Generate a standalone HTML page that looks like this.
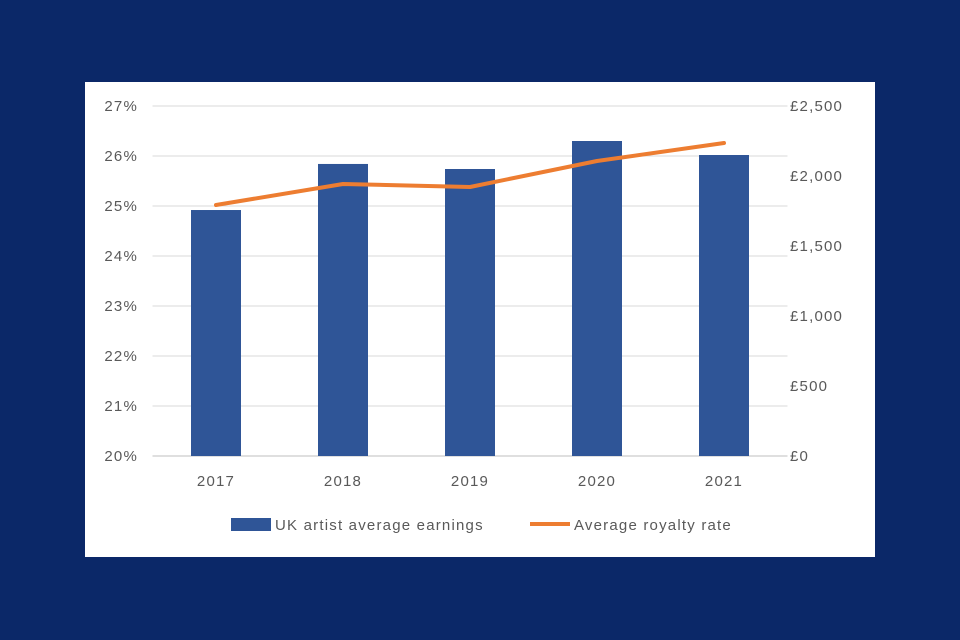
<!DOCTYPE html>
<html><head><meta charset="utf-8"><style>
body{margin:0;background:#0b2868;width:960px;height:640px;overflow:hidden}
svg{display:block}
text{font-family:"Liberation Sans",sans-serif;font-size:15px;fill:#595959;letter-spacing:1.2px}
</style></head><body>
<svg width="960" height="640">
<rect x="0" y="0" width="960" height="640" fill="#0b2868"/>
<rect x="85" y="82" width="790" height="475" fill="#fff"/>
<g id="grid"></g><g id="bars"></g><g id="line"></g><g id="axes"></g>
<g>
<rect x="231" y="518" width="40" height="13" fill="#2f5597"/>
<text x="275" y="530">UK artist average earnings</text>
<line x1="530" y1="524" x2="570" y2="524" stroke="#ed7d31" stroke-width="4"/>
<text x="574" y="530">Average royalty rate</text>
</g>
</svg>
<script>
const categories=["2017","2018","2019","2020","2021"];
const earnings=[1757,2086,2050,2250,2150];
const royalty=[25.02,25.44,25.38,25.9,26.26];
const leftTicks=[20,21,22,23,24,25,26,27];
const rightTicks=[0,500,1000,1500,2000,2500];
const NS="http://www.w3.org/2000/svg";
const x0=152.5,step=127,yTop=106,yBot=456;
const xC=i=>x0+step*(i+0.5);
const yL=v=>yBot-(v-20)/7*(yBot-yTop);
const yR=v=>yBot-v/2500*(yBot-yTop);
function mk(tag,attrs,parent){const e=document.createElementNS(NS,tag);for(const k in attrs)e.setAttribute(k,attrs[k]);document.getElementById(parent).appendChild(e);return e;}
leftTicks.forEach(t=>{
 const l=mk('line',{x1:x0,x2:x0+step*5,y1:yL(t),y2:yL(t),stroke:t===20?'#bfbfbf':'#d9d9d9','stroke-width':1},'grid');
 
 
 const tx=mk('text',{x:138,y:yL(t)+5,'text-anchor':'end'},'axes');tx.textContent=t+'%';
 
 
});
rightTicks.forEach(t=>{
 const tx=mk('text',{x:790,y:yR(t)+5},'axes');tx.textContent='£'+t.toLocaleString('en-GB');
 
 
});
categories.forEach((c,i)=>{
 const tx=mk('text',{x:xC(i),y:486,'text-anchor':'middle'},'axes');tx.textContent=c;
 
 
 const b=mk('rect',{x:xC(i)-25,y:yR(earnings[i]),width:50,height:yBot-yR(earnings[i]),fill:'#2f5597'},'bars');
 
 
});
let d='';royalty.forEach((v,i)=>{d+=(i?'L':'M')+xC(i)+' '+yL(v)+' ';});
const p=mk('path',{d:d,fill:'none',stroke:'#ed7d31','stroke-width':4,'stroke-linejoin':'round','stroke-linecap':'round'},'line');


</script>
</body></html>
